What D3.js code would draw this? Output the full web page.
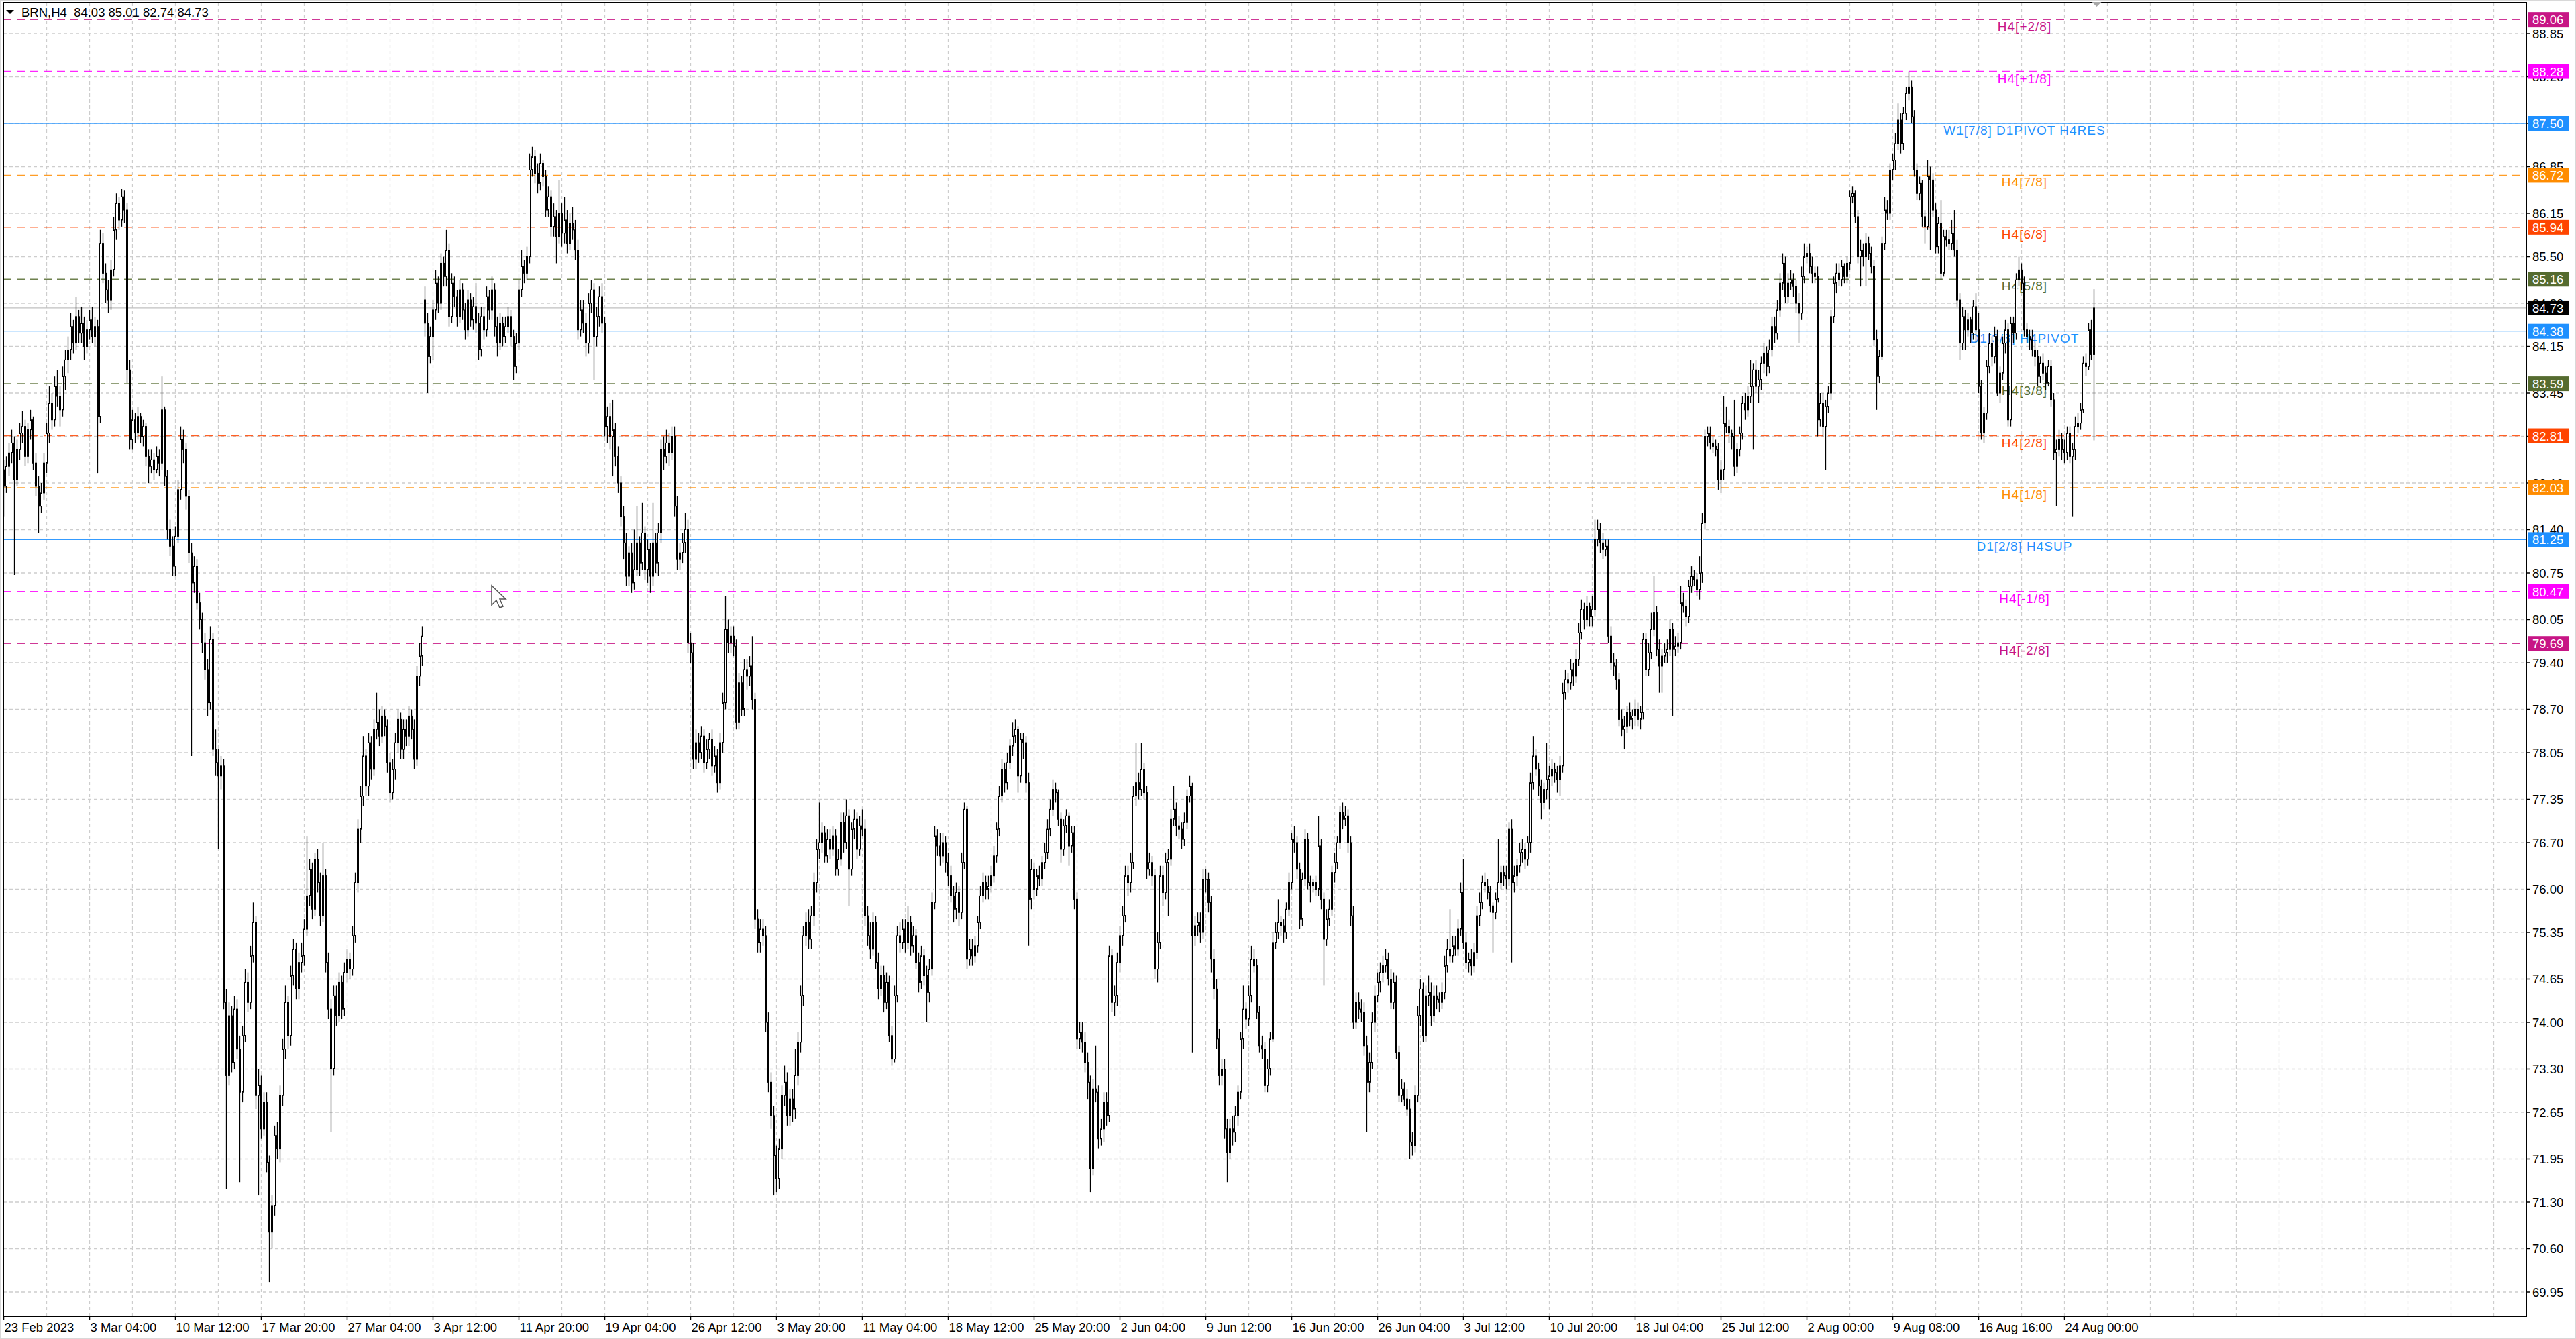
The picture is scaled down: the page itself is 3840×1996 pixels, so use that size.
<!DOCTYPE html>
<html>
<head>
<meta charset="utf-8">
<script src="https://cdn.jsdelivr.net/npm/d3@7"></script>
<style>
    html, body { margin: 0; padding: 0; background: #fff; }
    svg { display: block; }
</style>
</head>
<body>
<div class="canvas"></div>
<script>
const
    width = 3840,
    height = 1996,
    plotLeft = 5,
    plotTop = 4,
    plotRight = 3766,
    plotBottom = 1962;

// BRN,H4 candles, one row per 16 bars
const opens = [
    82.30, 82.05, 82.35, 82.55, 82.70, 82.15, 82.60, 82.85, 82.95, 82.50, 82.90, 83.05, 82.40, 82.05, 81.75, 81.95,
    82.40, 82.85, 83.30, 83.05, 83.55, 83.40, 83.20, 83.70, 83.95, 84.10, 84.45, 84.20, 84.60, 84.35, 84.50, 84.15,
    84.40, 84.55, 84.30, 84.45, 83.10, 85.70, 85.25, 85.00, 84.85, 85.30, 85.90, 86.30, 86.05, 86.40, 86.20, 83.80,
    82.75, 83.05, 82.85, 83.10, 82.80, 82.95, 82.50, 82.35, 82.45, 82.30, 82.50, 82.40, 83.20, 82.20, 81.40, 81.15,
    80.85, 81.30, 82.00, 82.75, 82.60, 81.90, 81.05, 80.60, 80.85, 80.30, 80.05, 79.70, 79.30, 78.80, 79.75, 78.10,
    77.90, 77.70, 77.85, 74.30, 73.20, 74.10, 73.40, 74.20, 73.60, 72.95, 73.80, 74.60, 74.30, 75.00, 75.50, 72.90,
    73.05, 72.40, 72.80, 71.90, 70.85, 71.25, 72.30, 72.10, 72.90, 73.60, 74.30, 73.80, 74.70, 75.10, 74.50, 74.90,
    75.00, 75.40, 75.90, 76.30, 75.70, 76.45, 76.10, 75.60, 76.20, 74.90, 74.20, 73.30, 74.40, 74.10, 74.60, 74.20,
    74.75, 74.95, 74.80, 75.30, 76.10, 76.90, 77.40, 78.00, 77.55, 78.20, 77.80, 78.40, 78.50, 78.30, 78.60, 78.45,
    77.90, 77.45, 77.80, 78.20, 78.55, 78.10, 78.40, 78.30, 78.60, 78.40, 77.95, 79.20, 79.50, 84.85, 84.50, 84.00,
    84.30, 84.70, 85.10, 84.80, 85.40, 85.20, 85.60, 84.60, 85.10, 84.90, 84.60, 85.00, 84.70, 84.40, 84.85, 84.55,
    84.75, 84.50, 84.10, 84.60, 84.40, 84.90, 84.70, 85.00, 84.45, 84.20, 84.50, 84.30, 84.45, 84.60, 84.30, 83.85,
    84.20, 85.00, 85.35, 85.25, 85.50, 86.80, 87.00, 86.75, 86.60, 86.90, 86.70, 86.20, 86.40, 85.95, 86.10, 85.80,
    86.15, 85.85, 86.05, 85.70, 86.00, 85.90, 85.60, 84.40, 84.70, 84.50, 84.20, 84.80, 85.00, 84.30, 84.60, 84.90,
    84.50, 82.95, 83.10, 82.80, 82.90, 82.50, 82.10, 81.60, 81.20, 80.70, 81.05, 80.60, 80.80, 81.20, 80.90, 81.35,
    80.80, 81.10, 80.70, 81.20, 80.90, 81.35, 82.60, 82.50, 82.70, 82.55, 82.80, 81.75, 80.95, 81.05, 81.20, 81.40,
    79.70, 79.55, 77.95, 78.20, 78.05, 78.30, 77.90, 78.10, 78.25, 77.85, 78.00, 77.60, 78.20, 78.80, 79.90, 79.70,
    79.80, 79.65, 78.50, 79.10, 78.70, 79.30, 79.20, 79.35, 78.85, 75.55, 75.20, 75.40, 75.30, 74.00, 73.10, 72.60,
    72.00, 71.65, 72.10, 72.90, 73.10, 72.60, 72.85, 72.70, 73.20, 73.70, 74.40, 75.30, 75.50, 75.25, 75.60, 76.10,
    76.60, 76.70, 76.85, 76.50, 76.75, 76.60, 76.80, 76.30, 76.45, 77.00, 76.70, 77.10, 76.30, 76.90, 77.05, 76.60,
    76.95, 76.90, 75.60, 75.30, 75.10, 75.50, 74.90, 74.50, 74.70, 74.30, 74.60, 73.80, 73.45, 74.40, 75.30, 75.20,
    75.40, 75.20, 75.50, 75.15, 75.30, 74.90, 74.60, 75.00, 74.70, 74.45, 74.80, 75.80, 76.80, 76.65, 76.50, 76.70,
    76.40, 76.20, 75.90, 75.70, 75.95, 75.65, 76.40, 77.20, 74.95, 75.10, 75.00, 75.15, 75.50, 75.90, 76.10, 76.00,
    76.05, 76.20, 76.50, 76.90, 77.40, 77.80, 77.60, 77.90, 78.15, 78.30, 78.40, 77.70, 78.25, 78.20, 77.60, 75.85,
    76.30, 76.00, 76.20, 76.15, 76.40, 76.55, 76.90, 77.20, 77.50, 77.45, 77.05, 76.60, 76.95, 77.10, 76.65, 76.85,
    75.85, 73.75, 73.85, 73.70, 73.40, 73.10, 71.80, 73.00, 72.95, 72.25, 72.40, 72.80, 72.60, 75.00, 74.30, 74.40,
    74.90, 75.30, 75.60, 76.20, 76.10, 76.40, 77.40, 77.60, 77.50, 77.80, 77.45, 76.30, 76.40, 76.20, 74.80, 75.20,
    76.20, 75.95, 76.40, 76.45, 77.05, 77.20, 76.95, 76.90, 76.75, 77.00, 77.40, 77.55, 75.30, 75.45, 75.50, 75.35,
    76.15, 76.15, 75.80, 74.95, 74.50, 73.75, 73.20, 73.30, 72.40, 72.05, 72.40, 72.35, 72.60, 72.95, 73.75, 74.20,
    74.05, 74.40, 74.95, 74.85, 74.15, 73.65, 73.60, 73.05, 73.30, 73.75, 75.20, 75.35, 75.50, 75.45, 75.35, 75.70,
    76.10, 76.75, 76.70, 76.30, 75.55, 76.15, 76.75, 76.10, 76.05, 76.10, 76.00, 76.65, 75.85, 75.25, 75.55, 75.70,
    76.25, 76.40, 76.70, 77.15, 77.05, 77.10, 76.70, 75.60, 74.00, 74.30, 74.20, 74.15, 73.65, 73.10, 73.40, 74.00,
    74.40, 74.60, 74.75, 74.85, 74.95, 74.65, 74.30, 74.60, 73.55, 72.90, 73.00, 72.85, 72.70, 72.20, 72.15, 72.90,
    74.10, 74.50, 73.80, 74.40, 74.45, 74.10, 74.40, 74.35, 74.30, 74.45, 74.85, 75.10, 75.00, 75.15, 75.10, 75.40,
    75.95, 75.20, 74.90, 74.95, 74.85, 75.05, 75.60, 75.80, 76.10, 76.05, 75.95, 75.75, 75.65, 75.85, 76.10, 76.25,
    76.20, 76.15, 76.90, 76.10, 76.20, 76.35, 76.55, 76.60, 76.45, 76.70, 77.60, 78.00, 77.80, 77.55, 77.30, 77.50,
    77.65, 77.70, 77.80, 77.75, 77.65, 77.85, 78.95, 79.15, 79.10, 79.30, 79.20, 79.45, 79.85, 80.20, 80.05, 80.25,
    80.10, 80.20, 81.25, 81.40, 81.20, 81.10, 81.15, 79.80, 79.40, 79.35, 79.15, 78.55, 78.40, 78.45, 78.65, 78.55,
    78.60, 78.70, 78.55, 78.65, 79.75, 79.30, 79.55, 79.90, 80.15, 79.60, 79.35, 79.50, 79.55, 79.60, 79.90, 79.60,
    79.65, 79.70, 80.30, 80.25, 80.10, 80.55, 80.70, 80.65, 80.50, 80.75, 81.50, 82.80, 82.85, 82.70, 82.65, 82.60,
    82.15, 82.30, 83.00, 82.95, 82.85, 82.80, 82.35, 82.60, 82.85, 83.30, 83.20, 83.40, 83.55, 83.80, 83.55, 83.65,
    83.90, 84.05, 83.85, 84.10, 84.45, 84.35, 84.70, 85.10, 85.40, 84.90, 85.10, 85.15, 85.05, 84.80, 84.65, 85.20,
    85.50, 85.55, 85.35, 85.25, 85.20, 83.05, 83.30, 82.95, 83.25, 83.45, 84.60, 85.10, 85.25, 85.15, 85.35, 85.20,
    85.40, 86.40, 86.45, 86.10, 85.50, 85.60, 85.50, 85.70, 85.55, 85.35, 84.25, 83.70, 84.00, 85.70, 86.20, 86.15,
    86.80, 86.95, 87.20, 87.55, 87.20, 87.65, 87.95, 88.05, 87.60, 86.80, 86.45, 86.60, 86.10, 85.95, 86.70, 86.65,
    86.20, 85.65, 86.00, 85.25, 85.80, 85.75, 85.70, 85.85, 85.60, 84.85, 84.20, 84.60, 84.40, 84.55, 84.35, 84.75,
    84.40, 83.55, 82.85, 83.15, 83.85, 84.20, 84.00, 84.30, 83.45, 83.75, 84.20, 84.40, 83.05, 84.50, 84.35, 85.15,
    85.30, 85.10, 84.40, 84.30, 84.25, 84.10, 84.00, 83.70, 83.90, 83.75, 83.60, 83.85, 83.35, 82.55, 82.60, 82.75,
    82.60, 82.55, 82.85, 82.50, 82.60, 82.95, 83.00, 83.20, 83.90, 83.85, 84.40, 84.03
];
const highs = [
    82.45, 82.50, 82.70, 82.90, 82.80, 82.75, 83.00, 83.18, 83.05, 83.00, 83.20, 83.10, 82.55, 82.20, 82.10, 82.55,
    83.00, 83.55, 83.45, 83.70, 83.80, 83.55, 83.85, 84.10, 84.30, 84.65, 84.55, 84.90, 84.70, 84.75, 84.60, 84.55,
    84.70, 84.75, 84.60, 84.55, 85.90, 85.85, 85.40, 85.15, 85.45, 86.10, 86.45, 86.40, 86.52, 86.50, 86.30, 83.95,
    83.20, 83.15, 83.25, 83.15, 83.05, 83.00, 82.60, 82.60, 82.55, 82.65, 82.60, 83.70, 83.25, 82.30, 81.55, 81.30,
    81.45, 82.15, 82.95, 82.90, 82.70, 82.00, 81.20, 81.00, 80.95, 80.45, 80.15, 79.85, 79.45, 79.95, 79.85, 78.40,
    78.10, 78.00, 77.95, 74.50, 74.30, 74.25, 74.40, 74.35, 73.80, 73.95, 74.80, 74.75, 75.15, 75.80, 75.60, 73.30,
    73.20, 72.95, 72.95, 72.00, 71.40, 72.45, 72.50, 73.05, 73.75, 74.55, 74.40, 74.85, 75.25, 75.20, 75.05, 75.20,
    75.55, 76.80, 76.45, 76.40, 76.55, 76.60, 76.25, 76.70, 76.30, 75.05, 74.35, 74.55, 74.55, 74.75, 74.70, 74.90,
    75.10, 75.05, 75.45, 76.25, 77.05, 77.55, 78.30, 78.10, 78.35, 78.30, 78.55, 78.95, 78.70, 78.75, 78.70, 78.55,
    78.05, 77.95, 78.35, 78.70, 78.65, 78.55, 78.55, 78.75, 78.70, 78.55, 79.35, 79.70, 79.95, 85.05, 84.65, 84.45,
    84.85, 85.30, 85.20, 85.55, 85.50, 85.90, 85.70, 85.25, 85.20, 85.00, 85.15, 85.10, 84.80, 85.00, 84.95, 84.90,
    85.10, 84.65, 84.75, 84.75, 85.05, 85.00, 85.20, 85.10, 84.60, 84.65, 84.60, 84.60, 84.75, 84.70, 84.40, 84.35,
    85.15, 85.60, 85.45, 85.65, 87.05, 87.15, 87.10, 86.90, 87.05, 86.95, 86.80, 86.55, 86.50, 86.30, 86.20, 86.65,
    86.30, 86.40, 86.20, 86.15, 86.25, 86.05, 85.75, 84.85, 84.85, 84.65, 84.95, 85.15, 85.10, 84.75, 85.05, 85.10,
    84.60, 83.25, 83.30, 83.35, 83.00, 82.65, 82.20, 81.75, 81.35, 81.15, 81.20, 81.40, 81.75, 81.30, 81.80, 81.45,
    81.25, 81.20, 81.80, 81.35, 81.50, 82.75, 82.80, 82.90, 82.85, 82.95, 82.95, 81.90, 81.20, 81.35, 81.65, 81.55,
    79.85, 79.70, 78.40, 78.35, 78.45, 78.40, 78.25, 78.35, 78.40, 78.15, 78.10, 78.35, 78.95, 80.40, 80.05, 79.95,
    79.95, 79.75, 79.25, 79.20, 79.45, 79.45, 79.50, 79.80, 78.95, 75.70, 75.55, 75.55, 75.45, 74.15, 73.25, 72.75,
    72.15, 72.25, 73.05, 73.35, 73.25, 73.00, 73.00, 73.60, 73.85, 74.55, 75.45, 75.65, 75.70, 75.75, 76.25, 76.75,
    77.30, 77.00, 76.95, 76.90, 76.90, 76.95, 76.90, 76.60, 77.15, 77.15, 77.35, 77.20, 77.00, 77.20, 77.15, 77.10,
    77.20, 77.05, 75.75, 75.50, 75.65, 75.60, 75.05, 74.85, 74.85, 74.75, 74.70, 73.95, 74.55, 75.45, 75.50, 75.55,
    75.55, 75.75, 75.60, 75.45, 75.40, 75.05, 75.15, 75.10, 74.85, 74.95, 75.95, 76.95, 76.90, 76.85, 76.85, 76.80,
    76.55, 76.35, 76.05, 76.10, 76.05, 76.55, 77.30, 77.25, 75.25, 75.25, 75.30, 75.60, 76.05, 76.25, 76.20, 76.20,
    76.35, 76.65, 77.00, 77.55, 77.95, 77.90, 78.05, 78.25, 78.50, 78.55, 78.45, 78.35, 78.35, 78.30, 77.75, 76.45,
    76.40, 76.30, 76.35, 76.50, 76.70, 77.05, 77.35, 77.65, 77.60, 77.50, 77.15, 77.05, 77.20, 77.15, 76.95, 76.95,
    75.95, 74.00, 74.00, 73.85, 73.55, 73.20, 73.15, 73.65, 73.05, 72.55, 72.95, 72.95, 75.15, 75.10, 74.55, 75.05,
    75.45, 75.75, 76.35, 76.35, 76.55, 77.55, 78.20, 77.75, 78.20, 77.90, 77.55, 76.55, 76.50, 76.30, 75.35, 76.35,
    76.35, 76.55, 76.60, 77.20, 77.55, 77.30, 77.10, 77.00, 77.15, 77.50, 77.70, 77.60, 75.60, 75.65, 75.65, 76.30,
    76.30, 76.25, 75.90, 75.10, 74.65, 73.90, 73.45, 73.45, 72.55, 72.55, 72.60, 72.75, 73.05, 73.85, 74.55, 74.30,
    74.55, 75.15, 75.10, 74.95, 74.25, 73.80, 73.70, 73.45, 73.85, 75.35, 75.50, 75.85, 75.60, 75.55, 75.80, 76.25,
    76.85, 76.95, 76.80, 76.40, 76.25, 76.90, 76.85, 76.20, 76.15, 76.20, 77.10, 76.75, 75.95, 75.70, 75.85, 76.35,
    76.55, 76.80, 77.25, 77.30, 77.25, 77.20, 76.80, 75.75, 74.45, 74.45, 74.35, 74.30, 73.80, 73.55, 74.15, 74.55,
    74.75, 74.90, 75.00, 75.10, 75.05, 74.80, 74.75, 74.70, 73.65, 73.15, 73.10, 73.00, 72.85, 72.35, 73.05, 74.25,
    74.65, 74.60, 74.55, 74.70, 74.60, 74.55, 74.55, 74.45, 74.60, 75.00, 75.25, 75.70, 75.30, 75.30, 75.55, 76.10,
    76.45, 75.35, 75.05, 75.10, 75.20, 75.75, 75.95, 76.20, 76.25, 76.15, 76.05, 75.80, 75.95, 76.75, 76.35, 76.35,
    76.35, 77.00, 77.05, 76.35, 76.45, 76.70, 76.75, 76.70, 76.80, 77.75, 78.30, 78.10, 77.90, 77.65, 77.60, 78.20,
    77.85, 77.95, 77.90, 77.85, 78.00, 79.10, 79.30, 79.25, 79.45, 79.40, 79.60, 80.00, 80.35, 80.30, 80.40, 80.30,
    80.40, 81.55, 81.55, 81.50, 81.35, 81.25, 81.25, 79.95, 79.55, 79.45, 79.25, 78.70, 78.60, 78.75, 78.80, 78.70,
    78.85, 78.80, 78.75, 79.85, 79.85, 79.70, 80.15, 80.70, 80.25, 79.75, 79.60, 79.70, 79.75, 80.05, 80.00, 79.80,
    79.85, 80.55, 80.45, 80.35, 80.65, 80.85, 80.80, 80.75, 81.00, 81.65, 82.90, 82.95, 82.95, 82.80, 82.75, 82.70,
    82.45, 83.40, 83.25, 83.05, 82.90, 83.35, 82.70, 82.95, 83.40, 83.45, 83.55, 83.95, 83.90, 83.95, 83.80, 84.00,
    84.20, 84.15, 84.25, 84.60, 84.60, 84.85, 85.25, 85.55, 85.50, 85.25, 85.30, 85.25, 85.15, 84.95, 85.35, 85.70,
    85.65, 85.70, 85.50, 85.35, 85.35, 83.45, 83.45, 83.35, 83.55, 84.70, 85.20, 85.40, 85.40, 85.45, 85.40, 85.50,
    86.50, 86.55, 86.50, 86.20, 85.75, 85.70, 85.85, 85.80, 85.65, 85.45, 84.40, 84.10, 85.80, 86.40, 86.35, 86.90,
    87.05, 87.35, 87.80, 87.65, 87.75, 88.05, 88.28, 88.15, 87.70, 86.90, 86.70, 86.65, 86.20, 86.95, 86.85, 86.75,
    86.30, 86.10, 86.35, 85.90, 85.90, 85.90, 86.05, 86.20, 85.75, 84.95, 84.75, 84.70, 84.65, 84.60, 84.85, 84.95,
    84.65, 83.65, 83.25, 83.95, 84.35, 84.30, 84.45, 84.40, 83.85, 84.30, 84.55, 84.50, 84.60, 84.60, 85.25, 85.50,
    85.40, 85.20, 84.50, 84.40, 84.40, 84.20, 84.10, 84.00, 84.05, 83.85, 83.95, 83.95, 83.45, 82.75, 82.90, 82.85,
    82.75, 82.95, 82.95, 82.70, 83.10, 83.15, 83.30, 84.00, 84.05, 84.50, 84.55, 85.01
];
const lows = [
    81.60, 81.95, 82.20, 82.40, 80.72, 82.05, 82.45, 82.70, 82.35, 82.40, 82.75, 82.30, 81.90, 81.35, 81.65, 81.85,
    82.25, 82.70, 82.90, 82.95, 83.25, 82.95, 83.10, 83.50, 83.75, 83.95, 84.05, 84.10, 84.20, 84.20, 83.95, 84.05,
    84.25, 84.20, 84.15, 82.25, 83.00, 85.10, 84.80, 84.65, 84.70, 85.20, 85.75, 85.90, 85.95, 86.00, 83.60, 82.60,
    82.60, 82.70, 82.75, 82.70, 82.65, 82.35, 82.10, 82.25, 82.15, 82.25, 82.20, 82.30, 82.05, 81.25, 81.00, 80.70,
    80.70, 81.20, 81.85, 82.40, 81.70, 80.90, 78.00, 80.45, 80.20, 79.90, 79.55, 79.15, 78.60, 78.70, 78.00, 77.70,
    76.60, 77.50, 74.20, 71.50, 73.05, 73.25, 73.30, 73.45, 71.60, 72.80, 73.70, 74.15, 74.20, 74.90, 72.70, 71.40,
    72.25, 72.30, 71.75, 70.10, 70.60, 71.10, 71.95, 71.90, 72.75, 73.45, 73.60, 73.65, 74.55, 74.35, 74.35, 74.75,
    74.85, 75.30, 75.75, 75.55, 75.60, 75.95, 75.45, 75.50, 74.75, 74.05, 72.35, 73.20, 73.95, 74.00, 74.05, 74.10,
    74.60, 74.65, 74.70, 75.20, 75.95, 76.70, 77.25, 77.40, 77.40, 77.65, 77.70, 78.25, 78.15, 78.20, 78.30, 77.75,
    77.30, 77.35, 77.65, 78.05, 77.95, 77.95, 78.15, 78.15, 78.25, 77.80, 77.85, 79.05, 79.35, 84.30, 83.45, 83.90,
    83.95, 84.55, 84.65, 84.70, 85.05, 85.05, 84.45, 84.50, 84.75, 84.45, 84.50, 84.55, 84.25, 84.30, 84.45, 84.40,
    84.35, 83.95, 84.00, 84.25, 84.30, 84.55, 84.55, 84.30, 84.00, 84.10, 84.15, 84.20, 84.35, 84.15, 83.65, 83.75,
    84.10, 84.90, 85.10, 85.15, 85.40, 86.70, 86.60, 86.45, 86.50, 86.55, 86.10, 86.10, 85.80, 85.80, 85.40, 85.70,
    85.65, 85.70, 85.55, 85.60, 85.75, 85.45, 84.25, 84.30, 84.35, 84.00, 84.05, 84.65, 83.65, 84.15, 84.45, 84.35,
    82.80, 82.70, 82.60, 82.20, 82.35, 81.95, 81.45, 80.95, 80.55, 80.55, 80.45, 80.50, 80.70, 80.70, 80.80, 80.65,
    80.60, 80.45, 80.55, 80.75, 80.70, 81.20, 82.30, 82.40, 82.35, 82.45, 81.60, 80.80, 80.80, 80.90, 81.05, 79.55,
    79.40, 77.80, 77.80, 77.90, 77.95, 77.75, 77.80, 77.95, 77.70, 77.75, 77.45, 77.50, 78.05, 78.70, 79.55, 79.55,
    79.50, 78.40, 78.40, 78.60, 78.60, 79.00, 79.05, 78.70, 75.40, 75.05, 75.05, 75.15, 73.85, 72.95, 72.40, 71.40,
    71.45, 71.50, 71.95, 72.75, 72.45, 72.45, 72.50, 72.55, 73.05, 73.55, 74.25, 75.15, 75.10, 75.10, 75.45, 75.95,
    76.45, 76.55, 76.40, 76.40, 76.45, 76.50, 76.20, 76.20, 76.35, 76.55, 76.60, 75.75, 76.20, 76.75, 76.45, 76.50,
    76.80, 75.45, 75.15, 74.95, 75.00, 74.80, 74.35, 74.40, 74.15, 74.20, 73.70, 73.35, 73.40, 74.30, 75.05, 75.10,
    75.05, 75.10, 75.00, 75.05, 74.80, 74.45, 74.50, 74.55, 74.00, 74.30, 74.70, 75.70, 76.50, 76.35, 76.40, 76.25,
    76.05, 75.80, 75.50, 75.55, 75.45, 75.55, 76.30, 74.80, 74.85, 74.85, 74.90, 75.05, 75.40, 75.80, 75.85, 75.85,
    75.95, 76.10, 76.40, 76.80, 77.30, 77.45, 77.50, 77.80, 78.00, 78.20, 77.45, 77.60, 77.95, 77.45, 75.15, 75.70,
    75.85, 75.90, 76.05, 76.05, 76.30, 76.45, 76.80, 77.10, 77.30, 76.95, 76.40, 76.50, 76.85, 76.35, 76.55, 75.70,
    73.60, 73.60, 73.55, 73.25, 72.85, 71.45, 71.70, 72.80, 72.10, 72.15, 72.20, 72.45, 72.50, 74.15, 74.10, 74.25,
    74.75, 75.15, 75.50, 75.90, 75.95, 76.30, 77.25, 77.35, 77.40, 77.35, 76.15, 76.20, 76.05, 74.65, 74.60, 75.10,
    75.75, 75.85, 75.60, 76.35, 76.95, 76.80, 76.75, 76.60, 76.65, 76.90, 77.30, 73.55, 75.15, 75.30, 75.20, 75.25,
    75.95, 75.65, 74.75, 74.35, 73.60, 73.05, 73.05, 72.25, 71.60, 71.95, 72.15, 72.20, 72.45, 72.85, 73.60, 73.90,
    73.95, 74.30, 74.75, 74.05, 73.55, 73.45, 72.95, 72.95, 73.20, 73.70, 75.10, 75.25, 75.30, 75.20, 75.25, 75.60,
    76.00, 76.55, 76.15, 75.40, 75.45, 76.05, 76.00, 75.80, 75.95, 75.90, 75.90, 75.70, 74.55, 75.15, 75.45, 75.60,
    76.10, 76.30, 76.60, 76.90, 76.95, 76.55, 75.45, 73.90, 73.90, 74.05, 74.00, 73.50, 72.35, 72.95, 73.30, 73.85,
    74.30, 74.45, 74.60, 74.75, 74.55, 74.20, 74.20, 73.45, 72.80, 72.80, 72.75, 72.60, 71.95, 72.00, 72.05, 72.80,
    73.95, 73.70, 73.70, 74.25, 73.95, 74.00, 74.20, 74.15, 74.20, 74.35, 74.75, 74.90, 74.90, 75.00, 75.00, 75.30,
    75.10, 74.80, 74.75, 74.70, 74.75, 74.95, 75.45, 75.70, 75.95, 75.85, 75.65, 75.05, 75.55, 75.80, 76.00, 76.05,
    76.00, 76.05, 74.90, 75.95, 76.05, 76.25, 76.40, 76.30, 76.35, 76.55, 77.50, 77.70, 77.40, 77.05, 77.20, 77.35,
    77.20, 77.55, 77.60, 77.45, 77.40, 77.75, 78.85, 78.95, 79.00, 79.05, 79.10, 79.35, 79.75, 79.90, 79.95, 79.95,
    79.95, 80.10, 81.15, 81.05, 80.95, 81.00, 79.70, 79.30, 79.20, 79.00, 78.45, 78.30, 78.10, 78.35, 78.45, 78.40,
    78.45, 78.45, 78.40, 78.55, 79.20, 79.20, 79.45, 79.80, 79.50, 78.95, 78.95, 79.40, 79.40, 79.50, 78.60, 79.50,
    79.55, 79.60, 80.15, 79.95, 80.00, 80.45, 80.55, 80.40, 80.35, 80.60, 81.40, 82.65, 82.60, 82.55, 82.50, 82.00,
    81.95, 82.15, 82.85, 82.70, 82.60, 82.20, 82.25, 82.50, 82.75, 83.05, 83.10, 83.30, 82.60, 83.45, 83.30, 83.50,
    83.75, 83.70, 83.75, 84.00, 84.20, 84.25, 84.60, 85.00, 84.80, 84.80, 85.00, 84.90, 84.65, 84.20, 84.55, 85.10,
    85.40, 85.25, 85.10, 85.10, 82.80, 82.95, 82.80, 82.30, 83.15, 83.35, 84.50, 84.95, 85.05, 85.05, 85.10, 85.10,
    85.30, 86.30, 86.00, 85.40, 85.05, 85.35, 85.05, 85.45, 85.25, 84.15, 83.20, 83.60, 83.95, 85.60, 86.05, 86.05,
    86.65, 86.80, 87.10, 87.05, 87.10, 87.55, 87.85, 87.50, 86.70, 86.35, 86.35, 85.95, 85.70, 85.90, 85.60, 86.10,
    85.55, 85.55, 85.15, 85.20, 85.65, 85.60, 85.60, 85.50, 84.75, 83.95, 84.10, 84.10, 84.30, 84.20, 84.25, 84.20,
    83.45, 82.75, 82.70, 83.05, 83.75, 83.85, 83.90, 83.40, 83.30, 83.65, 84.05, 82.95, 82.95, 84.20, 84.25, 85.05,
    85.00, 84.30, 84.20, 84.10, 84.00, 83.85, 83.55, 83.60, 83.65, 83.50, 83.55, 83.25, 82.45, 81.75, 82.50, 82.45,
    82.40, 82.45, 82.40, 81.60, 82.45, 82.85, 82.90, 83.15, 83.70, 83.80, 83.95, 82.74
];
const closes = [
    82.05, 82.35, 82.55, 82.70, 82.15, 82.60, 82.85, 82.95, 82.50, 82.90, 83.05, 82.40, 82.05, 81.75, 81.95, 82.40,
    82.85, 83.30, 83.05, 83.55, 83.40, 83.20, 83.70, 83.95, 84.10, 84.45, 84.20, 84.60, 84.35, 84.50, 84.15, 84.40,
    84.55, 84.30, 84.45, 83.10, 85.70, 85.25, 85.00, 84.85, 85.30, 85.90, 86.30, 86.05, 86.40, 86.20, 83.80, 82.75,
    83.05, 82.85, 83.10, 82.80, 82.95, 82.50, 82.35, 82.45, 82.30, 82.50, 82.40, 83.20, 82.20, 81.40, 81.15, 80.85,
    81.30, 82.00, 82.75, 82.60, 81.90, 81.05, 80.60, 80.85, 80.30, 80.05, 79.70, 79.30, 78.80, 79.75, 78.10, 77.90,
    77.70, 77.85, 74.30, 73.20, 74.10, 73.40, 74.20, 73.60, 72.95, 73.80, 74.60, 74.30, 75.00, 75.50, 72.90, 73.05,
    72.40, 72.80, 71.90, 70.85, 71.25, 72.30, 72.10, 72.90, 73.60, 74.30, 73.80, 74.70, 75.10, 74.50, 74.90, 75.00,
    75.40, 75.90, 76.30, 75.70, 76.45, 76.10, 75.60, 76.20, 74.90, 74.20, 73.30, 74.40, 74.10, 74.60, 74.20, 74.75,
    74.95, 74.80, 75.30, 76.10, 76.90, 77.40, 78.00, 77.55, 78.20, 77.80, 78.40, 78.50, 78.30, 78.60, 78.45, 77.90,
    77.45, 77.80, 78.20, 78.55, 78.10, 78.40, 78.30, 78.60, 78.40, 77.95, 79.20, 79.50, 79.80, 84.50, 84.00, 84.30,
    84.70, 85.10, 84.80, 85.40, 85.20, 85.60, 84.60, 85.10, 84.90, 84.60, 85.00, 84.70, 84.40, 84.85, 84.55, 84.75,
    84.50, 84.10, 84.60, 84.40, 84.90, 84.70, 85.00, 84.45, 84.20, 84.50, 84.30, 84.45, 84.60, 84.30, 83.85, 84.20,
    85.00, 85.35, 85.25, 85.50, 86.80, 87.00, 86.75, 86.60, 86.90, 86.70, 86.20, 86.40, 85.95, 86.10, 85.80, 86.15,
    85.85, 86.05, 85.70, 86.00, 85.90, 85.60, 84.40, 84.70, 84.50, 84.20, 84.80, 85.00, 84.30, 84.60, 84.90, 84.50,
    82.95, 83.10, 82.80, 82.90, 82.50, 82.10, 81.60, 81.20, 80.70, 81.05, 80.60, 80.80, 81.20, 80.90, 81.35, 80.80,
    81.10, 80.70, 81.20, 80.90, 81.35, 82.60, 82.50, 82.70, 82.55, 82.80, 81.75, 80.95, 81.05, 81.20, 81.40, 79.70,
    79.55, 77.95, 78.20, 78.05, 78.30, 77.90, 78.10, 78.25, 77.85, 78.00, 77.60, 78.20, 78.80, 79.90, 79.70, 79.80,
    79.65, 78.50, 79.10, 78.70, 79.30, 79.20, 79.35, 78.85, 75.55, 75.20, 75.40, 75.30, 74.00, 73.10, 72.60, 72.00,
    71.65, 72.10, 72.90, 73.10, 72.60, 72.85, 72.70, 73.20, 73.70, 74.40, 75.30, 75.50, 75.25, 75.60, 76.10, 76.60,
    76.70, 76.85, 76.50, 76.75, 76.60, 76.80, 76.30, 76.45, 77.00, 76.70, 77.10, 76.30, 76.90, 77.05, 76.60, 76.95,
    76.90, 75.60, 75.30, 75.10, 75.50, 74.90, 74.50, 74.70, 74.30, 74.60, 73.80, 73.45, 74.40, 75.30, 75.20, 75.40,
    75.20, 75.50, 75.15, 75.30, 74.90, 74.60, 75.00, 74.70, 74.45, 74.80, 75.80, 76.80, 76.65, 76.50, 76.70, 76.40,
    76.20, 75.90, 75.70, 75.95, 75.65, 76.40, 77.20, 74.95, 75.10, 75.00, 75.15, 75.50, 75.90, 76.10, 76.00, 76.05,
    76.20, 76.50, 76.90, 77.40, 77.80, 77.60, 77.90, 78.15, 78.30, 78.40, 77.70, 78.25, 78.20, 77.60, 75.85, 76.30,
    76.00, 76.20, 76.15, 76.40, 76.55, 76.90, 77.20, 77.50, 77.45, 77.05, 76.60, 76.95, 77.10, 76.65, 76.85, 75.85,
    73.75, 73.85, 73.70, 73.40, 73.10, 71.80, 73.00, 72.95, 72.25, 72.40, 72.80, 72.60, 75.00, 74.30, 74.40, 74.90,
    75.30, 75.60, 76.20, 76.10, 76.40, 77.40, 77.60, 77.50, 77.80, 77.45, 76.30, 76.40, 76.20, 74.80, 75.20, 76.20,
    75.95, 76.40, 76.45, 77.05, 77.20, 76.95, 76.90, 76.75, 77.00, 77.40, 77.55, 75.30, 75.45, 75.50, 75.35, 76.15,
    76.15, 75.80, 74.95, 74.50, 73.75, 73.20, 73.30, 72.40, 72.05, 72.40, 72.35, 72.60, 72.95, 73.75, 74.20, 74.05,
    74.40, 74.95, 74.85, 74.15, 73.65, 73.60, 73.05, 73.30, 73.75, 75.20, 75.35, 75.50, 75.45, 75.35, 75.70, 76.10,
    76.75, 76.70, 76.30, 75.55, 76.15, 76.75, 76.10, 76.05, 76.10, 76.00, 76.65, 75.85, 75.25, 75.55, 75.70, 76.25,
    76.40, 76.70, 77.15, 77.05, 77.10, 76.70, 75.60, 74.00, 74.30, 74.20, 74.15, 73.65, 73.10, 73.40, 74.00, 74.40,
    74.60, 74.75, 74.85, 74.95, 74.65, 74.30, 74.60, 73.55, 72.90, 73.00, 72.85, 72.70, 72.20, 72.15, 72.90, 74.10,
    74.50, 73.80, 74.40, 74.45, 74.10, 74.40, 74.35, 74.30, 74.45, 74.85, 75.10, 75.00, 75.15, 75.10, 75.40, 75.95,
    75.20, 74.90, 74.95, 74.85, 75.05, 75.60, 75.80, 76.10, 76.05, 75.95, 75.75, 75.65, 75.85, 76.10, 76.25, 76.20,
    76.15, 76.90, 76.10, 76.20, 76.35, 76.55, 76.60, 76.45, 76.70, 77.60, 78.00, 77.80, 77.55, 77.30, 77.50, 77.65,
    77.70, 77.80, 77.75, 77.65, 77.85, 78.95, 79.15, 79.10, 79.30, 79.20, 79.45, 79.85, 80.20, 80.05, 80.25, 80.10,
    80.20, 81.25, 81.40, 81.20, 81.10, 81.15, 79.80, 79.40, 79.35, 79.15, 78.55, 78.40, 78.45, 78.65, 78.55, 78.60,
    78.70, 78.55, 78.65, 79.75, 79.30, 79.55, 79.90, 80.15, 79.60, 79.35, 79.50, 79.55, 79.60, 79.90, 79.60, 79.65,
    79.70, 80.30, 80.25, 80.10, 80.55, 80.70, 80.65, 80.50, 80.75, 81.50, 82.80, 82.85, 82.70, 82.65, 82.60, 82.15,
    82.30, 83.00, 82.95, 82.85, 82.80, 82.35, 82.60, 82.85, 83.30, 83.20, 83.40, 83.55, 83.80, 83.55, 83.65, 83.90,
    84.05, 83.85, 84.10, 84.45, 84.35, 84.70, 85.10, 85.40, 84.90, 85.10, 85.15, 85.05, 84.80, 84.65, 85.20, 85.50,
    85.55, 85.35, 85.25, 85.20, 83.05, 83.30, 82.95, 83.25, 83.45, 84.60, 85.10, 85.25, 85.15, 85.35, 85.20, 85.40,
    86.40, 86.45, 86.10, 85.50, 85.60, 85.50, 85.70, 85.55, 85.35, 84.25, 83.70, 84.00, 85.70, 86.20, 86.15, 86.80,
    86.95, 87.20, 87.55, 87.20, 87.65, 87.95, 88.05, 87.60, 86.80, 86.45, 86.60, 86.10, 85.95, 86.70, 86.65, 86.20,
    85.65, 86.00, 85.25, 85.80, 85.75, 85.70, 85.85, 85.60, 84.85, 84.20, 84.60, 84.40, 84.55, 84.35, 84.75, 84.40,
    83.55, 82.85, 83.15, 83.85, 84.20, 84.00, 84.30, 83.45, 83.75, 84.20, 84.40, 83.05, 84.50, 84.35, 85.15, 85.30,
    85.10, 84.40, 84.30, 84.25, 84.10, 84.00, 83.70, 83.90, 83.75, 83.60, 83.85, 83.35, 82.55, 82.60, 82.75, 82.60,
    82.55, 82.85, 82.50, 82.60, 82.95, 83.00, 83.20, 83.90, 83.85, 84.40, 84.03, 84.73
];

// time axis: a label every 32 bars
const timeLabels = [
    "23 Feb 2023", "3 Mar 04:00", "10 Mar 12:00", "17 Mar 20:00", "27 Mar 04:00", "3 Apr 12:00",
    "11 Apr 20:00", "19 Apr 04:00", "26 Apr 12:00", "3 May 20:00", "11 May 04:00", "18 May 12:00",
    "25 May 20:00", "2 Jun 04:00", "9 Jun 12:00", "16 Jun 20:00", "26 Jun 04:00", "3 Jul 12:00",
    "10 Jul 20:00", "18 Jul 04:00", "25 Jul 12:00", "2 Aug 00:00", "9 Aug 08:00", "16 Aug 16:00",
    "24 Aug 00:00"
];
const priceTicks = [
    88.85, 88.20, 87.50, 86.85, 86.15, 85.50, 84.80, 84.15, 83.45, 82.80, 82.10, 81.40, 80.75, 80.05, 79.40,
    78.70, 78.05, 77.35, 76.70, 76.00, 75.35, 74.65, 74.00, 73.30, 72.65, 71.95, 71.30, 70.60, 69.95
];

// murrey-math levels
const levelPrices = [89.06, 88.28, 87.50, 86.72, 85.94, 85.16, 84.38, 83.59, 82.81, 82.03, 81.25, 80.47, 79.69];
const levelNames = [
    "H4[+2/8]", "H4[+1/8]", "W1[7/8] D1PIVOT H4RES", "H4[7/8]", "H4[6/8]", "H4[5/8]",
    "D1[3/8] H4PIVOT", "H4[3/8]", "H4[2/8]", "H4[1/8]", "D1[2/8] H4SUP", "H4[-1/8]", "H4[-2/8]"
];
const levelColors = [
    "#c71585", "#ff00ff", "#1e90ff", "#ff8c00", "#ff4500", "#556b2f",
    "#1e90ff", "#556b2f", "#ff4500", "#ff8c00", "#1e90ff", "#ff00ff", "#c71585"
];
const levelSolid = [false, false, true, false, false, false, true, false, false, false, true, false, false];

const fmt = d3.format('.2f');
const lastPrice = closes[closes.length - 1];

const svg = d3.select('.canvas').append('svg')
    .attr('width', width)
    .attr('height', height)
    .style('font-family', '"Liberation Sans", Arial, sans-serif');

svg.append('rect')
    .attr('width', width).attr('height', height)
    .attr('fill', '#fff')
    .attr('stroke', '#d8d8d8').attr('stroke-width', 3);

const x = d3.scaleLinear()
    .domain([0, 940])
    .range([5.5, 3765.5]);
const y = d3.scaleLinear()
    .domain([69.95, 88.85])
    .range([1926, 50]);

// grid
const grid = svg.append('g')
    .attr('stroke', '#cdcdcd')
    .attr('stroke-width', 1.3)
    .attr('stroke-dasharray', '5,4');

grid.selectAll('.hgrid')
    .data(priceTicks)
    .join('line')
    .attr('class', 'hgrid')
    .attr('x1', plotLeft).attr('x2', plotRight)
    .attr('y1', d => y(d)).attr('y2', d => y(d));

grid.selectAll('.vgrid')
    .data(d3.range(16, 940, 16).filter(i => x(i) < plotRight - 2))
    .join('line')
    .attr('class', 'vgrid')
    .attr('x1', d => x(d)).attr('x2', d => x(d))
    .attr('y1', plotTop).attr('y2', plotBottom);

// levels and their captions (behind the candles)
const levels = levelPrices.map((p, i) => ({p, name: levelNames[i], color: levelColors[i], solid: levelSolid[i]}));

svg.append('g').selectAll('line')
    .data(levels)
    .join('line')
    .attr('x1', plotLeft).attr('x2', plotRight)
    .attr('y1', d => y(d.p)).attr('y2', d => y(d.p))
    .attr('stroke', d => d.color)
    .attr('stroke-width', d => d.solid ? 1.3 : 1.5)
    .attr('stroke-opacity', d => d.solid ? 0.9 : 0.85)
    .attr('stroke-dasharray', d => d.solid ? null : '12,8');

svg.append('line')
    .attr('x1', plotLeft).attr('x2', plotRight)
    .attr('y1', y(lastPrice)).attr('y2', y(lastPrice))
    .attr('stroke', '#c0c0c0')
    .attr('stroke-width', 1.3);

svg.append('g').selectAll('text')
    .data(levels)
    .join('text')
    .attr('x', 3018)
    .attr('y', d => y(d.p) + 17)
    .attr('text-anchor', 'middle')
    .attr('font-size', 19)
    .attr('letter-spacing', 1)
    .attr('fill', d => d.color)
    .text(d => d.name);

// candles
const bars = closes.map((c, i) => ({i, o: opens[i], h: highs[i], l: lows[i], c}));

const candles = svg.append('g')
    .selectAll('g')
    .data(bars)
    .join('g');

candles.append('line')
    .attr('x1', d => x(d.i)).attr('x2', d => x(d.i))
    .attr('y1', d => y(Math.max(d.h, d.o, d.c)))
    .attr('y2', d => y(Math.min(d.l, d.o, d.c)))
    .attr('stroke', '#000')
    .attr('stroke-width', 1.3);

candles.append('rect')
    .attr('x', d => x(d.i) - 1)
    .attr('width', 2)
    .attr('y', d => y(Math.max(d.o, d.c)))
    .attr('height', d => Math.max(0.6, Math.abs(y(d.o) - y(d.c))))
    .attr('fill', d => d.c >= d.o ? '#fff' : '#000')
    .attr('stroke', '#000')
    .attr('stroke-width', 1);

// frame
svg.append('rect')
    .attr('x', plotLeft).attr('y', plotTop)
    .attr('width', plotRight - plotLeft).attr('height', plotBottom - plotTop)
    .attr('fill', 'none')
    .attr('stroke', '#000')
    .attr('stroke-width', 2);

// price axis
const priceAxis = svg.append('g');
priceAxis.selectAll('line')
    .data(priceTicks)
    .join('line')
    .attr('x1', plotRight).attr('x2', plotRight + 5)
    .attr('y1', d => y(d)).attr('y2', d => y(d))
    .attr('stroke', '#000').attr('stroke-width', 1.5);
priceAxis.selectAll('text')
    .data(priceTicks)
    .join('text')
    .attr('x', 3775)
    .attr('y', d => y(d) + 6.5)
    .attr('font-size', 18.5)
    .attr('fill', '#000')
    .text(d => fmt(d));

// price tags on the right
const tags = levels.map(d => ({p: d.p, color: d.color})).concat([{p: lastPrice, color: '#000'}]);
const tag = svg.append('g').selectAll('g')
    .data(tags)
    .join('g')
    .attr('transform', d => `translate(3768,${y(d.p)})`);
tag.append('rect')
    .attr('x', 0).attr('y', -11)
    .attr('width', 61).attr('height', 22)
    .attr('fill', d => d.color);
tag.append('text')
    .attr('x', 7).attr('y', 7)
    .attr('font-size', 18.5)
    .attr('fill', '#fff')
    .text(d => fmt(d.p));

// time axis
const timeAxis = svg.append('g');
timeAxis.selectAll('line')
    .data(timeLabels)
    .join('line')
    .attr('x1', (d, i) => x(i * 32)).attr('x2', (d, i) => x(i * 32))
    .attr('y1', plotBottom).attr('y2', plotBottom + 5)
    .attr('stroke', '#000').attr('stroke-width', 1.5);
timeAxis.selectAll('text')
    .data(timeLabels)
    .join('text')
    .attr('x', (d, i) => x(i * 32) + 1)
    .attr('y', 1985)
    .attr('font-size', 18.5)
    .attr('fill', '#000')
    .text(d => d);

// header
svg.append('path')
    .attr('d', 'M9,15 L21,15 L15,21 Z')
    .attr('fill', '#000');
svg.append('text')
    .attr('x', 32).attr('y', 25)
    .attr('font-size', 18.5)
    .attr('fill', '#000')
    .attr('xml:space', 'preserve')
    .style('white-space', 'pre')
    .text(`BRN,H4  ${fmt(opens[opens.length - 1])} ${fmt(highs[highs.length - 1])} ${fmt(lows[lows.length - 1])} ${fmt(lastPrice)}`);

// chart shift marker
svg.append('path')
    .attr('d', `M${x(closes.length) - 7},3 L${x(closes.length) + 7},3 L${x(closes.length)},10 Z`)
    .attr('fill', '#a8a8a8');

// mouse pointer left on the chart
svg.append('path')
    .attr('d', 'M0,0 L0,29 L7,22 L12,33 L17,31 L12,20 L21,20 Z')
    .attr('transform', 'translate(733,873)')
    .attr('fill', '#fff')
    .attr('stroke', '#555')
    .attr('stroke-width', 1.5);
</script>
</body>
</html>
